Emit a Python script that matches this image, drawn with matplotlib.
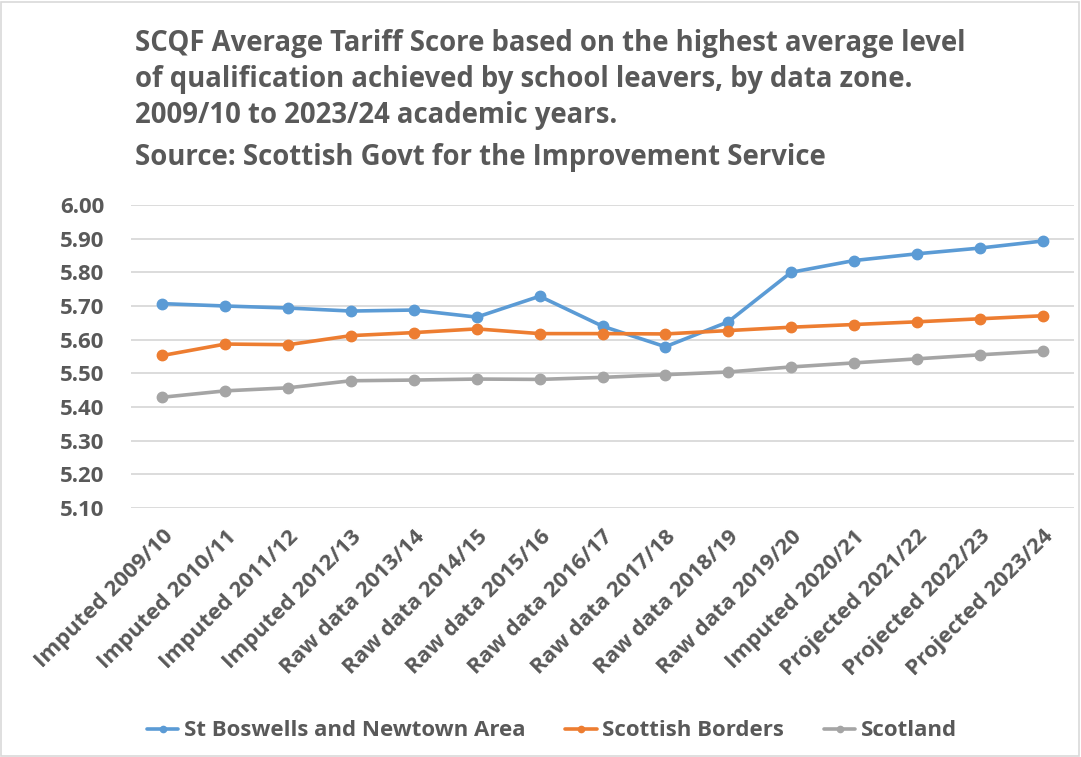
import matplotlib
matplotlib.use("Agg")
import matplotlib.pyplot as plt

FONT = 'Open Sans'

categories = ["Imputed 2009/10", "Imputed 2010/11", "Imputed 2011/12", "Imputed 2012/13",
              "Raw data 2013/14", "Raw data 2014/15", "Raw data 2015/16", "Raw data 2016/17",
              "Raw data 2017/18", "Raw data 2018/19", "Raw data 2019/20", "Imputed 2020/21",
              "Projected 2021/22", "Projected 2022/23", "Projected 2023/24"]
st_boswells = [5.707, 5.700, 5.694, 5.685, 5.688, 5.667, 5.729, 5.640, 5.579, 5.653,
               5.800, 5.835, 5.855, 5.872, 5.893]
borders = [5.553, 5.587, 5.585, 5.612, 5.621, 5.632, 5.618, 5.618, 5.617, 5.627,
           5.637, 5.645, 5.653, 5.662, 5.671]
scotland = [5.429, 5.448, 5.457, 5.478, 5.480, 5.483, 5.482, 5.488, 5.496, 5.504,
            5.519, 5.531, 5.543, 5.555, 5.566]
series_names = ["St Boswells and Newtown Area", "Scottish Borders", "Scotland"]
yticks = [5.10, 5.20, 5.30, 5.40, 5.50, 5.60, 5.70, 5.80, 5.90, 6.00]
title_lines = ["SCQF Average Tariff Score based on the highest average level",
               "of qualification achieved by school leavers, by data zone.",
               "2009/10 to 2023/24 academic years.",
               "Source: Scottish Govt for the Improvement Service"]

TXT = '#595959'
colors = ['#5B9BD5', '#ED7D31', '#A5A5A5']

plt.rcParams['font.family'] = [FONT, 'DejaVu Sans']
fig = plt.figure(figsize=(10.81, 7.57), dpi=100)
W, H = 1081, 757
ax = fig.add_axes([131 / W, 1 - 508 / H, (1074 - 131) / W, (508 - 205) / H])

x = list(range(len(categories)))
for vals, c, n in zip([st_boswells, borders, scotland], colors, series_names):
    ax.plot(x, vals, color=c, lw=2.6, marker='o', ms=7.5, label=n,
            solid_capstyle='round', clip_on=False)

ax.set_xlim(-0.5, len(categories) - 0.5)
ax.set_ylim(5.10, 6.00)
ax.set_yticks(yticks)
ax.set_yticklabels([f"{v:.2f}" for v in yticks], fontsize=16, fontweight='bold', color=TXT)
ax.set_xticks(x)
ax.set_xticklabels(categories, rotation=45, ha='right', rotation_mode='anchor',
                   fontsize=16, fontweight='bold', color=TXT)
ax.tick_params(axis='y', length=0, pad=19)
ax.tick_params(axis='x', length=0, pad=13)
ax.grid(axis='y', color='#D9D9D9', lw=1.3)
ax.set_axisbelow(True)
for s in ax.spines.values():
    s.set_visible(False)

ys = [44, 79, 115, 157]
for t, yy in zip(title_lines, ys):
    fig.text(135 / W, 1 - yy / H, t, fontsize=19.8, fontweight='bold', color=TXT,
             ha='left', va='center')

leg = fig.legend(loc='center', bbox_to_anchor=(552 / W, 1 - 731 / H), ncol=3,
                 frameon=False, fontsize=16, handlelength=1.4, handletextpad=0.25,
                 columnspacing=1.8, markerscale=0.6)
for t in leg.get_texts():
    t.set_color(TXT)
    t.set_fontweight('bold')

fig.add_artist(plt.Rectangle((1 / W, 1 / H), 1 - 3 / W, 1 - 3 / H, transform=fig.transFigure,
                             fill=False, edgecolor='#D9D9D9', lw=1.2))
fig.savefig('out.png', dpi=100)
